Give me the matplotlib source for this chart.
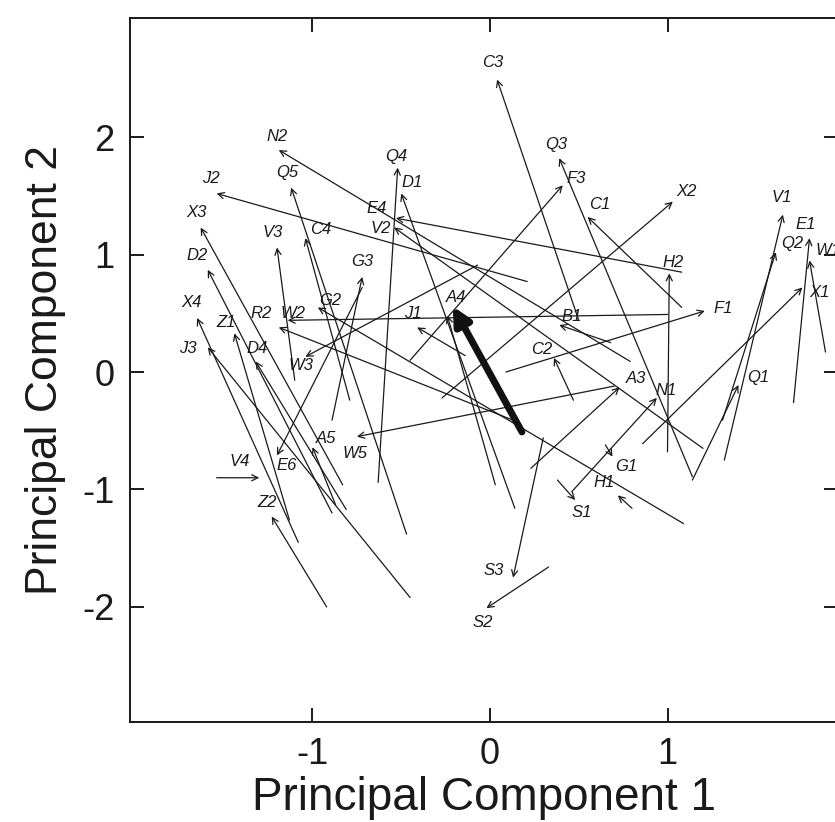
import matplotlib
matplotlib.use('Agg')
import matplotlib.pyplot as plt

plt.rcParams['font.family'] = ['Liberation Sans', 'DejaVu Sans']
plt.rcParams['axes.unicode_minus'] = False

# arrow labels, head (tip) and tail positions in PC1/PC2 units
labels = ['C3', 'N2', 'Q4', 'D1', 'Q3', 'F3', 'J2', 'Q5', 'X2', 'E4',
          'C1', 'X3', 'V3', 'C4', 'V2', 'V1', 'E1', 'D2', 'G3', 'H2',
          'Q2', 'W1', 'X1', 'X4', 'Z1', 'J3', 'D4', 'R2', 'W2', 'G2',
          'W3', 'A4', 'J1', 'B1', 'F1', 'C2', 'A3', 'N1', 'Q1', 'A5',
          'V4', 'W5', 'E6', 'G1', 'H1', 'S1', 'Z2', 'S3', 'S2']
head_x = [0.04, -1.19, -0.52, -0.50, 0.39, 0.41, -1.54, -1.12, 1.03, -0.53,
          0.55, -1.63, -1.20, -1.04, -0.54, 1.65, 1.80, -1.59, -0.72, 1.01,
          1.61, 1.80, 1.76, -1.65, -1.44, -1.59, -1.32, -1.19, -1.14, -0.97,
          -1.04, -0.24, -0.41, 0.39, 1.21, 0.36, 0.73, 0.94, 1.40, -1.00,
          -1.30, -0.75, -1.20, 0.69, 0.72, 0.48, -1.23, 0.13, -0.02]
head_y = [2.49, 1.89, 1.74, 1.52, 1.82, 1.59, 1.52, 1.57, 1.45, 1.31,
          1.32, 1.23, 1.06, 1.14, 1.23, 1.34, 1.14, 0.87, 0.81, 0.84,
          1.02, 0.95, 0.72, 0.46, 0.33, 0.21, 0.09, 0.38, 0.44, 0.55,
          0.13, 0.48, 0.38, 0.40, 0.52, 0.12, -0.13, -0.22, -0.11, -0.64,
          -0.90, -0.55, -0.71, -0.72, -1.05, -1.09, -1.23, -1.75, -2.01]
tail_x = [0.50, 0.79, -0.63, 0.14, 1.14, -0.45, 0.21, -0.47, -0.27, 1.08,
          1.08, -0.83, -1.10, -0.79, 1.20, 1.32, 1.71, -0.89, -0.89, 1.00,
          1.31, 1.89, 0.86, -1.08, -1.13, -0.45, -0.81, 0.13, 1.00, 1.09,
          -0.07, 0.03, -0.14, 0.68, 0.09, 0.47, 0.23, 0.46, 1.14, -0.87,
          -1.54, 0.70, -0.72, 0.65, 0.80, 0.38, -0.92, 0.30, 0.33]
tail_y = [0.44, 0.09, -0.94, -1.16, -0.89, 0.10, 0.77, -1.38, -0.22, 0.85,
          0.55, -0.96, -0.07, -0.24, -0.65, -0.75, -0.26, -1.20, -0.41, -0.68,
          -0.41, 0.17, -0.61, -1.45, -1.26, -1.92, -1.17, -0.41, 0.49, -1.29,
          0.91, -0.96, 0.14, 0.25, 0.00, -0.24, -0.82, -1.02, -0.92, -1.13,
          -0.90, -0.12, 0.72, -0.62, -1.16, -0.92, -2.00, -0.56, -1.66]

# overall (mean) shift, drawn as the thick arrow
mean_tail = (0.18, -0.51)
mean_head = (-0.21, 0.56)

# label offsets from the arrow tip, in points
label_offset = {
    'C3': (-3, 12), 'N2': (-1, 10), 'Q4': (-1, 8), 'D1': (8, 8), 'Q3': (-2, 10),
    'F3': (10, 5), 'J2': (-4, 11), 'Q5': (-3, 11), 'X2': (10, 7), 'E4': (-14, 7),
    'C1': (9, 9), 'X3': (-3, 11), 'V3': (-3, 11), 'C4': (11, 6), 'V2': (-10, -1),
    'V1': (-1, 12), 'E1': (-3, 10), 'D2': (-8, 10), 'G3': (0, 11), 'H2': (3, 8),
    'Q2': (12, 6), 'W1': (13, 7), 'X1': (12, -4), 'X4': (-4, 11), 'Z1': (-6, 8),
    'J3': (-14, -1), 'D4': (1, 9), 'R2': (-13, 10), 'W2': (4, 5), 'G2': (9, 5),
    'W3': (-3, -6), 'A4': (6, 13), 'J1': (-3, 10), 'B1': (9, 6), 'F1': (13, 2),
    'C2': (-9, 6), 'A3': (12, 6), 'N1': (7, 5), 'Q1': (14, 5), 'A5': (10, 6),
    'V4': (-14, 12), 'W5': (-1, -12), 'E6': (7, -7), 'G1': (10, -7), 'H1': (-10, 9),
    'S1': (5, -9), 'Z2': (-3, 10), 'S3': (-14, 5), 'S2': (-3, -10),
}

fig = plt.figure(figsize=(8.35, 8.22), dpi=100)
ax = fig.add_axes([0.1557, 0.1217, 0.848, 0.8563])

for lab, hx, hy, tx, ty in zip(labels, head_x, head_y, tail_x, tail_y):
    ax.annotate('', xy=(hx, hy), xytext=(tx, ty),
                arrowprops=dict(arrowstyle='->', lw=0.9, color='#1a1a1a',
                                mutation_scale=11, shrinkA=0, shrinkB=0))
    dx, dy = label_offset[lab]
    ax.annotate(lab, xy=(hx, hy), xytext=(dx, dy), textcoords='offset points',
                ha='center', va='center', fontsize=12, style='italic',
                color='#1a1a1a', annotation_clip=False)

ax.annotate('', xy=mean_head, xytext=mean_tail,
            arrowprops=dict(arrowstyle='-|>', lw=5, color='#111111',
                            mutation_scale=26, shrinkA=0, shrinkB=0))

ax.set_xlim(-2.028, 1.961)
ax.set_ylim(-2.979, 3.013)
ax.set_xticks([-1, 0, 1])
ax.set_yticks([2, 1, 0, -1, -2])
ax.tick_params(direction='in', length=10, width=1.4, labelsize=26, pad=11,
               top=True, right=True, colors='#1a1a1a')
for spine in ax.spines.values():
    spine.set_linewidth(1.4)
    spine.set_color('#1a1a1a')

ax.set_xlabel('Principal Component 1', fontsize=33, labelpad=3, color='#1a1a1a')
ax.set_ylabel('Principal Component 2', fontsize=32, labelpad=12, color='#1a1a1a')

plt.savefig('out.png', dpi=100)
